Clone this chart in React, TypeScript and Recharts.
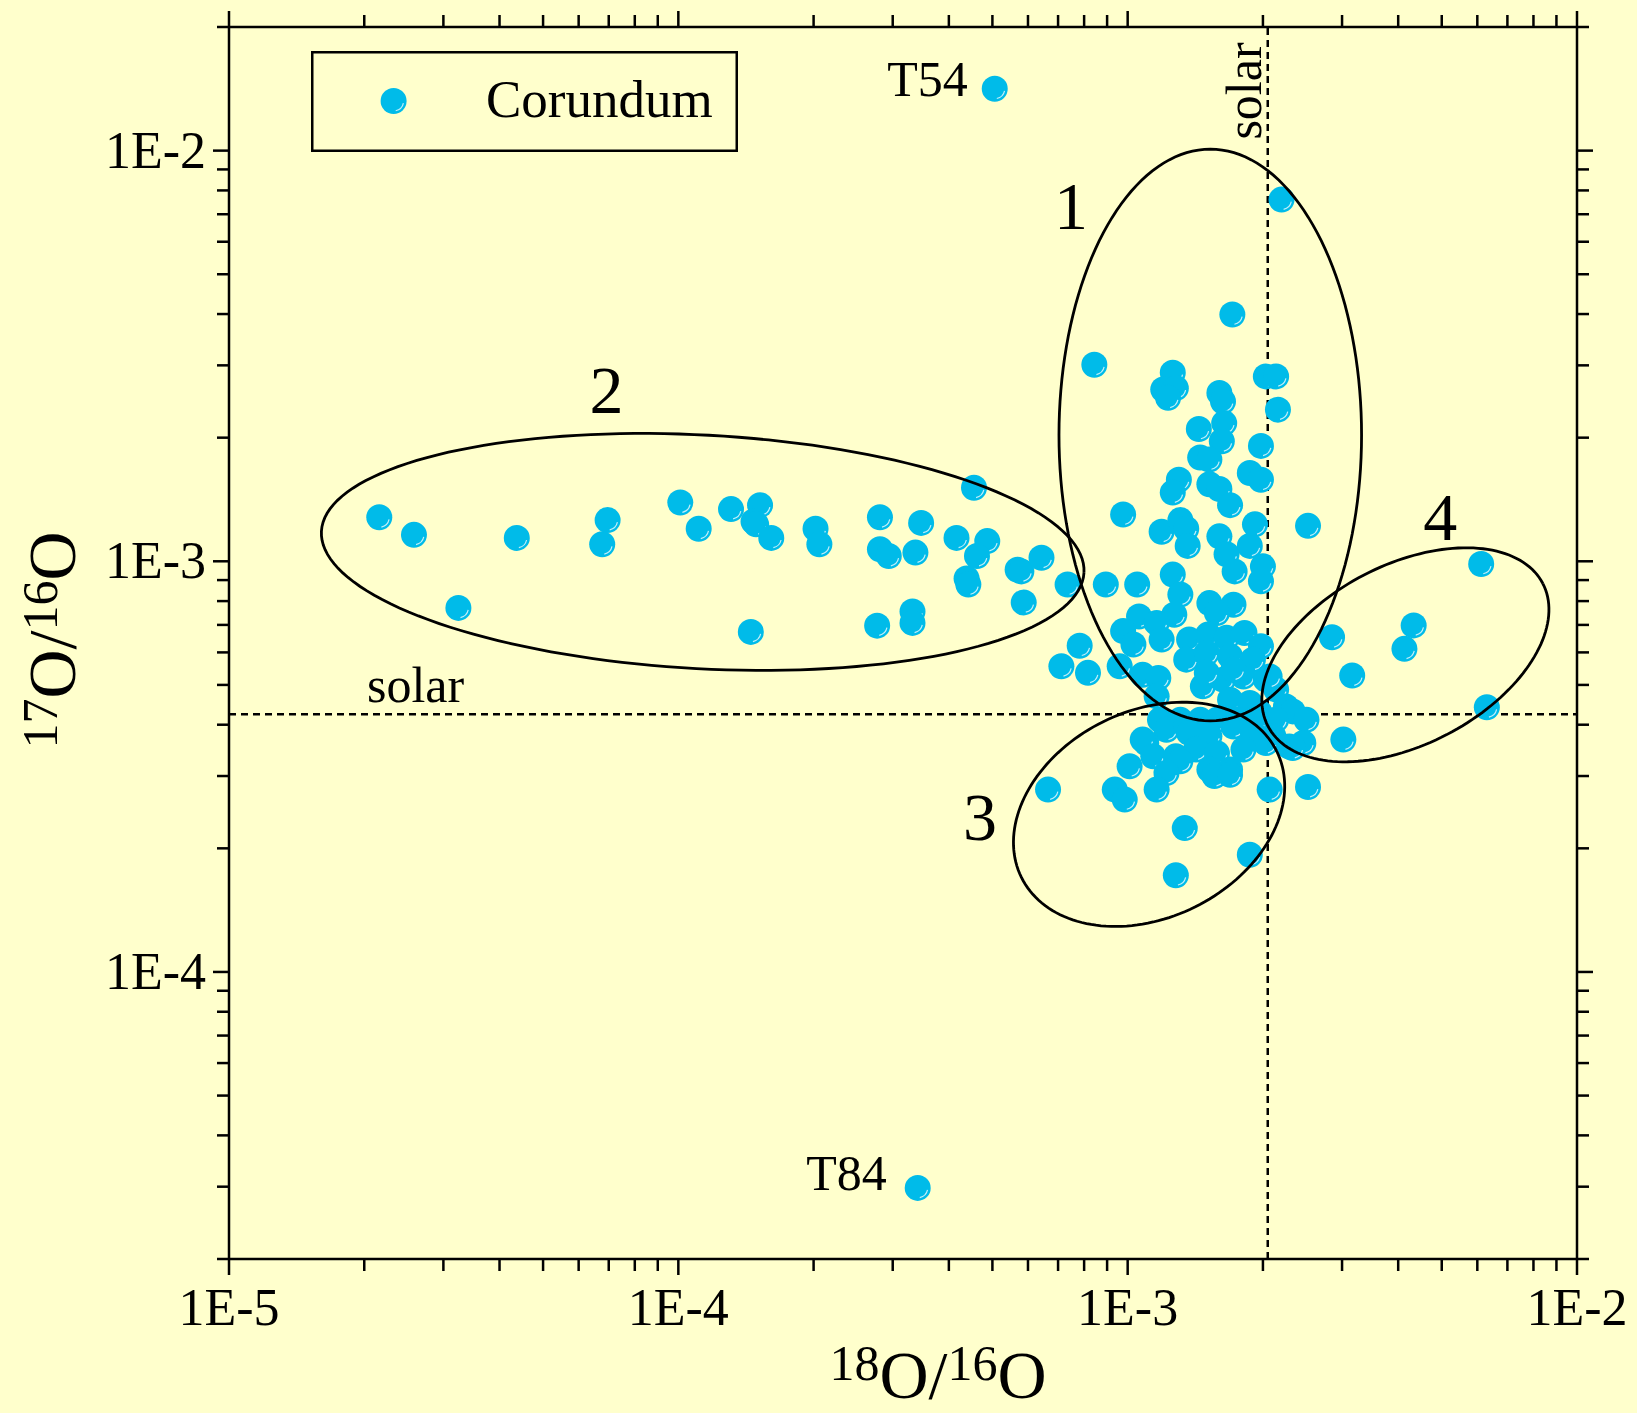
import React from "react"
import { ScatterChart, Scatter, XAxis, YAxis, ReferenceLine, ReferenceDot, Legend } from "recharts"

const FONT = '"Liberation Serif", "Times New Roman", Times, serif'
const BG = "#FFFFCC"
const DOT_FILL = "#00BBE9"
const INK = "#000000"

const CHART_W = 1637
const CHART_H = 1413
const LEFT_W = 229
const RIGHT_W = 60
const TOP_H = 27
const BOTTOM_H = 154
const PLOT_W = CHART_W - LEFT_W - RIGHT_W
const PLOT_H = CHART_H - TOP_H - BOTTOM_H

// axes
const xDomain: [number, number] = [1e-5, 1e-2]
const yDomain: [number, number] = [2e-5, 2e-2]
const xMajorTicks = [1e-5, 1e-4, 1e-3, 1e-2]
const xTickLabels = ["1E-5", "1E-4", "1E-3", "1E-2"]
const yMajorTicks = [1e-4, 1e-3, 1e-2]
const yTickLabels = ["1E-4", "1E-3", "1E-2"]
const minorSteps = [2, 3, 4, 5, 6, 7, 8, 9]

// solar ratios (dashed lines)
const solar18 = 2.05e-3
const solar17 = 4.24e-4

// outliers
const t54 = { x: 5.06e-4, y: 1.415e-2 }
const t84 = { x: 3.41e-4, y: 2.98e-5 }

// group 2 (low 18O)
const g2O18 = [2.16e-5, 2.58e-5, 3.24e-5, 4.37e-5, 6.77e-5, 6.96e-5, 1.01e-4, 1.11e-4, 1.31e-4, 1.52e-4, 1.47e-4, 1.49e-4, 1.61e-4, 1.45e-4, 2.02e-4, 2.06e-4, 2.81e-4, 2.81e-4, 2.94e-4, 3.47e-4, 3.37e-4, 2.77e-4, 3.32e-4, 3.32e-4, 4.55e-4, 4.16e-4, 4.87e-4, 4.62e-4, 4.38e-4, 4.42e-4, 5.69e-4, 5.8e-4, 6.43e-4, 5.87e-4, 7.35e-4]
const g2O17 = [1.28e-3, 1.16e-3, 7.7e-4, 1.14e-3, 1.1e-3, 1.26e-3, 1.39e-3, 1.2e-3, 1.34e-3, 1.37e-3, 1.25e-3, 1.23e-3, 1.14e-3, 6.73e-4, 1.2e-3, 1.1e-3, 1.28e-3, 1.07e-3, 1.03e-3, 1.24e-3, 1.05e-3, 6.97e-4, 7.55e-4, 7.08e-4, 1.51e-3, 1.14e-3, 1.12e-3, 1.03e-3, 9.08e-4, 8.78e-4, 9.54e-4, 9.45e-4, 1.02e-3, 7.94e-4, 8.78e-4]

// group 1 and the central cluster
const g1O18 = [2.2e-3, 1.71e-3, 8.43e-4, 1.26e-3, 1.2e-3, 1.28e-3, 1.23e-3, 2.03e-3, 2.14e-3, 1.6e-3, 1.63e-3, 2.16e-3, 1.44e-3, 1.64e-3, 1.62e-3, 1.45e-3, 1.52e-3, 1.98e-3, 1.87e-3, 1.98e-3, 1.3e-3, 1.26e-3, 1.52e-3, 1.6e-3, 1.69e-3, 9.77e-4, 2.52e-3, 1.19e-3, 1.31e-3, 1.35e-3, 1.36e-3, 1.6e-3, 1.66e-3, 1.73e-3, 1.92e-3, 1.87e-3, 2.0e-3, 1.98e-3, 8.94e-4, 1.05e-3, 1.26e-3, 1.31e-3, 1.27e-3, 1.52e-3, 1.72e-3, 1.58e-3, 1.06e-3, 1.16e-3, 9.77e-4, 1.03e-3, 1.19e-3, 7.82e-4, 7.12e-4, 8.16e-4, 9.6e-4, 1.08e-3, 1.17e-3, 1.37e-3, 1.51e-3, 1.66e-3, 1.82e-3, 1.98e-3, 1.35e-3, 1.5e-3, 1.69e-3, 1.9e-3, 1.47e-3, 1.63e-3, 1.81e-3, 2.03e-3, 1.16e-3, 2.14e-3, 1.69e-3, 1.87e-3, 1.5e-3, 1.72e-3, 2.25e-3, 2.33e-3, 2.5e-3, 2.07e-3, 1.97e-3]
const g1O17 = [7.6e-3, 3.99e-3, 3.01e-3, 2.88e-3, 2.62e-3, 2.64e-3, 2.5e-3, 2.82e-3, 2.82e-3, 2.57e-3, 2.45e-3, 2.34e-3, 2.1e-3, 2.17e-3, 1.96e-3, 1.79e-3, 1.77e-3, 1.91e-3, 1.64e-3, 1.58e-3, 1.58e-3, 1.47e-3, 1.54e-3, 1.5e-3, 1.37e-3, 1.3e-3, 1.22e-3, 1.18e-3, 1.26e-3, 1.2e-3, 1.09e-3, 1.15e-3, 1.04e-3, 9.45e-4, 1.23e-3, 1.09e-3, 9.72e-4, 8.94e-4, 8.78e-4, 8.78e-4, 9.28e-4, 8.3e-4, 7.41e-4, 7.91e-4, 7.84e-4, 7.48e-4, 7.34e-4, 7.08e-4, 6.76e-4, 6.27e-4, 6.45e-4, 6.23e-4, 5.55e-4, 5.35e-4, 5.55e-4, 5.29e-4, 5.2e-4, 6.45e-4, 6.63e-4, 6.51e-4, 6.69e-4, 6.21e-4, 5.76e-4, 5.98e-4, 5.87e-4, 5.76e-4, 4.96e-4, 5.15e-4, 5.24e-4, 5.15e-4, 4.69e-4, 4.87e-4, 4.6e-4, 4.52e-4, 5.35e-4, 5.45e-4, 4.43e-4, 4.31e-4, 4.11e-4, 5.24e-4, 4.27e-4]

// group 3 (below solar 17O)
const g3O18 = [1.18e-3, 1.31e-3, 1.45e-3, 1.58e-3, 1.75e-3, 1.93e-3, 2.14e-3, 1.22e-3, 1.35e-3, 1.5e-3, 1.72e-3, 1.9e-3, 2.11e-3, 1.1e-3, 1.37e-3, 1.52e-3, 2.03e-3, 2.29e-3, 2.46e-3, 3.02e-3, 1.08e-3, 1.14e-3, 1.28e-3, 1.42e-3, 1.58e-3, 1.81e-3, 1.01e-3, 1.31e-3, 1.52e-3, 1.69e-3, 1.56e-3, 1.69e-3, 1.22e-3, 9.36e-4, 9.85e-4, 6.65e-4, 1.16e-3, 2.07e-3, 2.52e-3, 2.33e-3, 1.34e-3, 1.87e-3, 1.28e-3]
const g3O17 = [4.11e-4, 4.11e-4, 4.11e-4, 4.11e-4, 4.11e-4, 4.11e-4, 4.11e-4, 3.89e-4, 3.96e-4, 3.89e-4, 3.96e-4, 3.82e-4, 3.75e-4, 3.61e-4, 3.82e-4, 3.75e-4, 3.61e-4, 3.54e-4, 3.61e-4, 3.68e-4, 3.68e-4, 3.35e-4, 3.35e-4, 3.48e-4, 3.41e-4, 3.48e-4, 3.17e-4, 3.26e-4, 3.11e-4, 3.11e-4, 3.0e-4, 3.02e-4, 3.05e-4, 2.78e-4, 2.63e-4, 2.78e-4, 2.78e-4, 2.78e-4, 2.82e-4, 3.51e-4, 2.24e-4, 1.93e-4, 1.72e-4]

// group 4 (high 18O)
const g4O18 = [2.85e-3, 3.16e-3, 4.33e-3, 4.13e-3, 6.12e-3, 6.3e-3]
const g4O17 = [6.53e-4, 5.27e-4, 6.98e-4, 6.12e-4, 9.85e-4, 4.41e-4]

// group ellipses: centre, semi-axes (in decades of 18O/16O), tilt in degrees
const ellipseO18 = [1.527e-3, 1.133e-4, 1.116e-3, 4.15e-3]
const ellipseO17 = [2.03e-3, 1.054e-3, 2.42e-4, 5.92e-4]
const ellipseSemiA = [0.3367, 0.8498, 0.3169, 0.3446]
const ellipseSemiB = [0.6362, 0.26, 0.2301, 0.2001]
const ellipseTilt = [0, -3.1, 26.3, 27.4]

// group labels
const groupNames = ["1", "2", "3", "4"]
const groupLabelO18 = [7.48e-4, 6.92e-5, 4.69e-4, 4.96e-3]
const groupLabelO17 = [6.43e-3, 2.3e-3, 2.09e-4, 1.126e-3]

const zip = (xs: number[], ys: number[]) => xs.map((x, i) => ({ x, y: ys[i] }))

const corundum = [
  t54,
  ...zip(g2O18, g2O17),
  ...zip(g1O18, g1O17),
  ...zip(g3O18, g3O17),
  ...zip(g4O18, g4O17),
  t84,
]

// outline of each group, traced in log space so it looks like an ellipse on screen
const xDecPx = PLOT_W / Math.log10(xDomain[1] / xDomain[0])
const yDecPx = PLOT_H / Math.log10(yDomain[1] / yDomain[0])
const ellipses = ellipseO18.map((cx, k) => {
  const phi = (ellipseTilt[k] * Math.PI) / 180
  const pts = []
  for (let i = 0; i <= 160; i++) {
    const t = (i / 160) * 2 * Math.PI
    const u = ellipseSemiA[k] * Math.cos(t)
    const v = ellipseSemiB[k] * Math.sin(t)
    const ur = u * Math.cos(phi) - v * Math.sin(phi)
    const vr = u * Math.sin(phi) + v * Math.cos(phi)
    pts.push({
      x: cx * Math.pow(10, ur),
      y: ellipseO17[k] * Math.pow(10, (vr * xDecPx) / yDecPx),
    })
  }
  return pts
})

function logTicks([lo, hi]: [number, number]) {
  const out: number[] = []
  for (let e = Math.floor(Math.log10(lo)); e <= Math.ceil(Math.log10(hi)); e++) {
    for (const m of [1, ...minorSteps]) {
      const v = Number((m * Math.pow(10, e)).toPrecision(6))
      if (v >= lo * 0.999 && v <= hi * 1.001) out.push(v)
    }
  }
  return out
}
const xTicks = logTicks(xDomain)
const yTicks = logTicks(yDomain)

const isMajor = (v: number) => Math.abs(Math.log10(v) - Math.round(Math.log10(v))) < 1e-6

type Side = "bottom" | "top" | "left" | "right"

function makeTick(side: Side, majors?: number[], labels?: string[]) {
  return (props: any) => {
    const { x, y, payload } = props
    const v = payload.value
    const major = isMajor(v)
    const len = major ? 16 : 12
    let x2 = x
    let y2 = y
    if (side === "bottom") y2 = y + len
    if (side === "top") y2 = y - len
    if (side === "left") x2 = x - len
    if (side === "right") x2 = x + len
    let label = null
    if (major && majors && labels) {
      const i = majors.findIndex((m) => Math.abs(m - v) / m < 1e-6)
      if (i >= 0) {
        label =
          side === "bottom" ? (
            <text x={x} y={y + 66} textAnchor="middle" fontFamily={FONT} fontSize={52} fill={INK}>
              {labels[i]}
            </text>
          ) : (
            <text x={x - 23} y={y + 17} textAnchor="end" fontFamily={FONT} fontSize={52} fill={INK}>
              {labels[i]}
            </text>
          )
      }
    }
    return (
      <g>
        <line x1={x} y1={y} x2={x2} y2={y2} stroke={INK} strokeWidth={2.5} />
        {label}
      </g>
    )
  }
}

function CorundumDot(props: any) {
  const { cx, cy } = props
  if (cx == null || cy == null) return <g />
  const hr = 10
  const a0 = (12 * Math.PI) / 180
  const a1 = (78 * Math.PI) / 180
  const d = `M ${cx + hr * Math.cos(a0)} ${cy + hr * Math.sin(a0)} A ${hr} ${hr} 0 0 1 ${cx + hr * Math.cos(a1)} ${cy + hr * Math.sin(a1)}`
  return (
    <g>
      <circle cx={cx} cy={cy} r={13} fill={DOT_FILL} />
      <path d={d} stroke="#ffffff" strokeWidth={1.2} fill="none" opacity={0.75} />
    </g>
  )
}

function XTitle(props: any) {
  const vb = props.viewBox
  return (
    <text x={vb.x + vb.width / 2 + 35} y={vb.y + 139} textAnchor="middle" fontFamily={FONT} fill={INK}>
      <tspan fontSize={50} dy={-18}>18</tspan>
      <tspan fontSize={68} dy={18}>O/</tspan>
      <tspan fontSize={50} dy={-18}>16</tspan>
      <tspan fontSize={68} dy={18}>O</tspan>
    </text>
  )
}

function YTitle(props: any) {
  const vb = props.viewBox
  const x = vb.x + 75
  const y = vb.y + vb.height / 2 - 3
  return (
    <text x={x} y={y} transform={`rotate(-90 ${x} ${y})`} textAnchor="middle" fontFamily={FONT} fill={INK}>
      <tspan fontSize={50} dy={-18}>17</tspan>
      <tspan fontSize={68} dy={18}>O/</tspan>
      <tspan fontSize={50} dy={-18}>16</tspan>
      <tspan fontSize={68} dy={18}>O</tspan>
    </text>
  )
}

function annotation(text: string, dx: number, dy: number, size: number, anchor: "start" | "middle" | "end") {
  return (props: any) => {
    const vb = props.viewBox
    const cx = vb.x + (vb.width || 0) / 2
    const cy = vb.y + (vb.height || 0) / 2
    return (
      <text x={cx + dx} y={cy + dy} textAnchor={anchor} fontFamily={FONT} fontSize={size} fill={INK}>
        {text}
      </text>
    )
  }
}

function SolarHLabel(props: any) {
  const vb = props.viewBox
  return (
    <text x={vb.x + 138} y={vb.y - 12} fontFamily={FONT} fontSize={50} fill={INK}>
      solar
    </text>
  )
}

function SolarVLabel(props: any) {
  const vb = props.viewBox
  const top = Math.min(vb.y, vb.y + vb.height)
  const x = vb.x - 7
  const y = top + 64
  return (
    <text x={x} y={y} transform={`rotate(-90 ${x} ${y})`} textAnchor="middle" fontFamily={FONT} fontSize={50} fill={INK}>
      solar
    </text>
  )
}

function LegendBox() {
  return (
    <svg width={427} height={101} style={{ display: "block" }}>
      <rect x={1.25} y={1.25} width={424.5} height={98.5} fill="none" stroke={INK} strokeWidth={2.5} />
      <CorundumDot cx={82.6} cy={50} />
      <text x={175} y={66} fontFamily={FONT} fontSize={53} fill={INK}>
        Corundum
      </text>
    </svg>
  )
}

export default function App() {
  const axisLine = { stroke: INK, strokeWidth: 2.5 }
  return (
    <div style={{ width: CHART_W, height: CHART_H, background: BG }}>
      <style>{`body{margin:0;background:${BG};}`}</style>
      <ScatterChart width={CHART_W} height={CHART_H} margin={{ top: 0, right: 0, bottom: 0, left: 0 }}>
        <XAxis
          xAxisId="b"
          orientation="bottom"
          type="number"
          dataKey="x"
          scale="log"
          domain={xDomain}
          allowDataOverflow
          ticks={xTicks}
          interval={0}
          tickSize={0}
          tickMargin={0}
          tickLine={false}
          tick={makeTick("bottom", xMajorTicks, xTickLabels)}
          axisLine={axisLine}
          height={BOTTOM_H}
          label={(p: any) => <XTitle {...p} />}
        />
        <XAxis
          xAxisId="t"
          orientation="top"
          type="number"
          dataKey="x"
          scale="log"
          domain={xDomain}
          allowDataOverflow
          ticks={xTicks}
          interval={0}
          tickSize={0}
          tickMargin={0}
          tickLine={false}
          tick={makeTick("top")}
          axisLine={axisLine}
          height={TOP_H}
        />
        <YAxis
          yAxisId="l"
          orientation="left"
          type="number"
          dataKey="y"
          scale="log"
          domain={yDomain}
          allowDataOverflow
          ticks={yTicks}
          interval={0}
          tickSize={0}
          tickMargin={0}
          tickLine={false}
          tick={makeTick("left", yMajorTicks, yTickLabels)}
          axisLine={axisLine}
          width={LEFT_W}
          label={(p: any) => <YTitle {...p} />}
        />
        <YAxis
          yAxisId="r"
          orientation="right"
          type="number"
          dataKey="y"
          scale="log"
          domain={yDomain}
          allowDataOverflow
          ticks={yTicks}
          interval={0}
          tickSize={0}
          tickMargin={0}
          tickLine={false}
          tick={makeTick("right")}
          axisLine={axisLine}
          width={RIGHT_W}
        />
        <Scatter
          name="Corundum"
          data={corundum}
          xAxisId="b"
          yAxisId="l"
          shape={CorundumDot}
          isAnimationActive={false}
        />
        {ellipses.map((pts, k) => (
          <Scatter
            key={`ell-${k}`}
            data={pts}
            xAxisId="b"
            yAxisId="l"
            line={{ stroke: INK, strokeWidth: 2.8, fill: "none" }}
            lineType="joint"
            shape={() => <g />}
            legendType="none"
            isAnimationActive={false}
          />
        ))}
        <ReferenceLine
          xAxisId="b"
          yAxisId="l"
          y={solar17}
          stroke={INK}
          strokeWidth={2.5}
          strokeDasharray="7 5"
          label={(p: any) => <SolarHLabel {...p} />}
        />
        <ReferenceLine
          xAxisId="b"
          yAxisId="l"
          x={solar18}
          stroke={INK}
          strokeWidth={2.5}
          strokeDasharray="7 5"
          label={(p: any) => <SolarVLabel {...p} />}
        />
        <ReferenceDot xAxisId="b" yAxisId="l" x={t54.x} y={t54.y} r={0} fill="none" stroke="none" label={annotation("T54", -27, 7, 50, "end")} />
        <ReferenceDot xAxisId="b" yAxisId="l" x={t84.x} y={t84.y} r={0} fill="none" stroke="none" label={annotation("T84", -31, 2, 50, "end")} />
        {groupNames.map((name, k) => (
          <ReferenceDot
            key={`grp-${name}`}
            xAxisId="b"
            yAxisId="l"
            x={groupLabelO18[k]}
            y={groupLabelO17[k]}
            r={0}
            fill="none"
            stroke="none"
            label={annotation(name, 0, 0, 68, "middle")}
          />
        ))}
        <Legend
          layout="vertical"
          align="center"
          verticalAlign="middle"
          width={427}
          height={101}
          wrapperStyle={{ left: 311, top: 51, width: 427, height: 101 }}
          content={() => <LegendBox />}
        />
      </ScatterChart>
    </div>
  )
}
